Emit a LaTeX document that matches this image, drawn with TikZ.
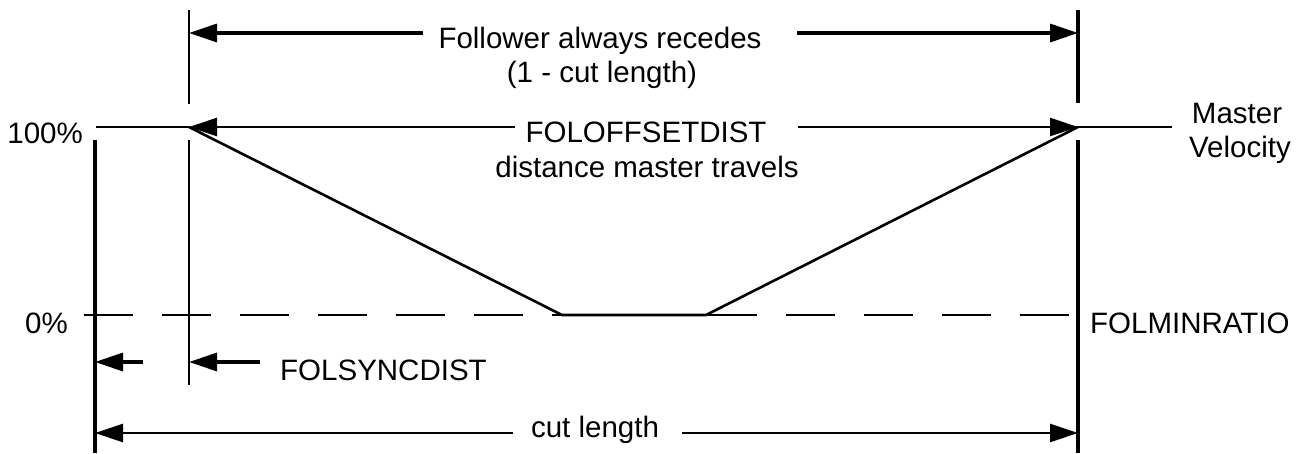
\documentclass[tikz,border=0pt]{standalone}
\usepackage{fontspec}
\setmainfont{Liberation Sans}
\usetikzlibrary{arrows.meta}
\begin{document}
\begin{tikzpicture}[x=1pt,y=-1pt,
  lbl/.style={inner sep=0pt,anchor=base,font=\fontsize{29.5}{35}\selectfont},
  thickln/.style={line width=3.4pt},
  thinln/.style={line width=2.6pt},
  arr/.style={-{Triangle[length=28pt,width=18pt]}},
  prof/.style={line width=2.6pt,line join=miter}]
\useasboundingbox (0,0) rectangle (1301,453);
% coordinates
\coordinate (L0) at (95,140);   \coordinate (L1) at (95,453);
\coordinate (Ma) at (189,10);   \coordinate (Mb) at (189,104);
\coordinate (Mc) at (189,140);  \coordinate (Md) at (189,385);
\coordinate (Ra) at (1078,10);  \coordinate (Rb) at (1078,103);
\coordinate (Rc) at (1078,140); \coordinate (Rd) at (1078,453);
% verticals
\draw[thickln] (L0) -- (L1);
\draw[thinln] (Ma) -- (Mb);
\draw[thinln] (Mc) -- (Md);
\draw[thickln] (Ra) -- (Rb);
\draw[thickln] (Rc) -- (Rd);
% top arrow
\coordinate (T0) at (189,33); \coordinate (T1) at (423,33);
\coordinate (T2) at (797,33); \coordinate (T3) at (1078,33);
\draw[thickln,arr] (T1) -- (T0);
\draw[thickln,arr] (T2) -- (T3);
\node[lbl] (fol) at (600,48) {Follower always recedes};
\node[lbl] (fol2) at (602,82) {(1 - cut length)};
% 100% line
\coordinate (H0) at (96,127); \coordinate (H1) at (189,127);
\coordinate (H2) at (515,127); \coordinate (H3) at (798,127);
\coordinate (H4) at (1078,127); \coordinate (H5) at (1172,127);
\draw[thinln] (H0) -- (H1);
\draw[thinln,arr] (H2) -- (H1);
\draw[thinln,arr] (H3) -- (H4);
\draw[thinln] (H4) -- (H5);
\node[lbl] (off) at (646,142) {FOLOFFSETDIST};
\node[lbl] (off2) at (647,177) {distance master travels};
% dashed 0% line
\coordinate (D0) at (84,315); \coordinate (D1) at (1076,315);
\draw[line width=2.6pt,dash pattern=on 49pt off 29pt] (D0) -- (D1);
% velocity profile
\coordinate (P1) at (562,315); \coordinate (P2) at (706,315);
\draw[prof] (H1) -- (P1) -- (P2) -- (H4);
% small arrows
\coordinate (S0) at (95,362); \coordinate (S1) at (143,362);
\coordinate (S2) at (189,362); \coordinate (S3) at (260,362);
\draw[thickln,arr] (S1) -- (S0);
\draw[thickln,arr] (S3) -- (S2);
\node[lbl,anchor=base west] (sync) at (280,380) {FOLSYNCDIST};
% bottom arrow
\coordinate (B0) at (95,433); \coordinate (B1) at (513,433);
\coordinate (B2) at (682,433); \coordinate (B3) at (1078,433);
\draw[thinln,arr] (B1) -- (B0);
\draw[thinln,arr] (B2) -- (B3);
\node[lbl] (cut) at (595,437) {cut length};
% side labels
\node[lbl,anchor=base east] (p100) at (83,143) {100\%};
\node[lbl,anchor=base east] (p0) at (68,333) {0\%};
\node[lbl] (mast) at (1237,123) {Master};
\node[lbl] (vel) at (1240,157) {Velocity};
\node[lbl,anchor=base west] (minr) at (1090,333) {FOLMINRATIO};
\end{tikzpicture}
\end{document}
